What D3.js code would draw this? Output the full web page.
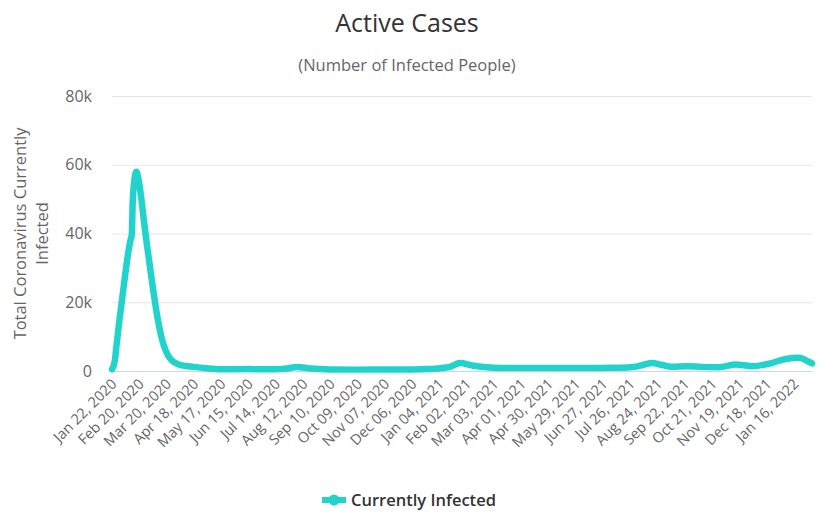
<!DOCTYPE html>
<html>
<head>
<meta charset="utf-8">
<script src="https://cdn.jsdelivr.net/npm/d3@7/dist/d3.min.js"></script>
<style>
  html, body { margin: 0; padding: 0; background: #fff; }
  svg { display: block; font-family: "Open Sans", "DejaVu Sans", sans-serif; }
</style>
</head>
<body>
<svg id="chart" width="820" height="520"></svg>
<script>
// ---- data ----
const dates = [
  "2020-01-22","2020-01-25","2020-01-27","2020-01-30","2020-02-02","2020-02-05","2020-02-08",
  "2020-02-11","2020-02-12","2020-02-13","2020-02-14","2020-02-16","2020-02-17","2020-02-19",
  "2020-02-22","2020-02-25","2020-02-28","2020-03-02","2020-03-05","2020-03-08","2020-03-11",
  "2020-03-14","2020-03-17","2020-03-21","2020-03-26","2020-04-01","2020-04-08","2020-04-18",
  "2020-05-01","2020-05-17","2020-06-15","2020-07-14","2020-07-28","2020-08-05","2020-08-20",
  "2020-09-10","2020-10-09","2020-11-07","2020-12-06","2020-12-20","2021-01-05","2021-01-15",
  "2021-01-26","2021-02-08","2021-02-23","2021-03-12","2021-04-15","2021-05-20","2021-06-25",
  "2021-07-15","2021-07-29","2021-08-10","2021-08-18","2021-08-28","2021-09-08","2021-09-23",
  "2021-10-10","2021-10-28","2021-11-15","2021-12-02","2021-12-20","2022-01-07","2022-01-21",
  "2022-02-01","2022-02-04"
];
const activeCases = [
  500, 3000, 8000, 15000, 21500, 28000, 34000,
  38500, 39500, 49000, 53500, 57500, 58000, 56000,
  50500, 43500, 37000, 31000, 25000, 19500, 14500,
  10500, 7500, 4800, 3000, 2000, 1500, 1200,
  800, 500, 550, 500, 800, 1200, 700,
  450, 400, 450, 450, 550, 800, 1200,
  2300, 1600, 1100, 900, 850, 850, 900,
  950, 1150, 1900, 2300, 1800, 1250, 1400,
  1200, 1100, 1900, 1400, 2100, 3500, 3850,
  2600, 2200
];
const xTickLabels = [
  "Jan 22, 2020","Feb 20, 2020","Mar 20, 2020","Apr 18, 2020","May 17, 2020","Jun 15, 2020",
  "Jul 14, 2020","Aug 12, 2020","Sep 10, 2020","Oct 09, 2020","Nov 07, 2020","Dec 06, 2020",
  "Jan 04, 2021","Feb 02, 2021","Mar 03, 2021","Apr 01, 2021","Apr 30, 2021","May 29, 2021",
  "Jun 27, 2021","Jul 26, 2021","Aug 24, 2021","Sep 22, 2021","Oct 21, 2021","Nov 19, 2021",
  "Dec 18, 2021","Jan 16, 2022"
];
const yTicks = [0, 20000, 40000, 60000, 80000];
const yTickLabels = ["0", "20k", "40k", "60k", "80k"];
const seriesName = "Currently Infected";
const lineColor = "#22d3cc";

// ---- layout ----
const svg = d3.select("#chart");
const plotLeft = 112, plotRight = 812, plotTop = 96, plotBottom = 371;
const parse = d3.timeParse("%Y-%m-%d");
const parseTick = d3.timeParse("%b %d, %Y");
const data = dates.map((d, i) => ({ date: parse(d), value: activeCases[i] }));

const x = d3.scaleTime()
  .domain([parse("2020-01-22"), parse("2022-02-04")])
  .range([plotLeft, plotRight]);
const y = d3.scaleLinear().domain([0, 80000]).range([plotBottom, plotTop]);

// Title / subtitle
svg.append("text").attr("x", 407).attr("y", 32).attr("text-anchor", "middle")
  .attr("font-size", 25).attr("fill", "#333").text("Active Cases");
svg.append("text").attr("x", 407).attr("y", 71).attr("text-anchor", "middle")
  .attr("font-size", 16.5).attr("fill", "#666").text("(Number of Infected People)");

// Gridlines + y labels
const yAxis = d3.axisLeft(y).tickValues(yTicks)
  .tickSize(-(plotRight - plotLeft)).tickPadding(20)
  .tickFormat((d, i) => yTickLabels[i]);
const gy = svg.append("g").attr("transform", `translate(${plotLeft},0)`).call(yAxis);
gy.select(".domain").remove();
gy.selectAll(".tick line").attr("stroke", "#e6e6e6").attr("stroke-width", 1);
gy.selectAll(".tick text").attr("font-size", 16).attr("fill", "#666")
  .attr("font-family", "'Open Sans', sans-serif");

// Y axis title
const yt = svg.append("text").attr("transform", `translate(31,${(plotTop + plotBottom) / 2}) rotate(-90)`)
  .attr("text-anchor", "middle").attr("font-size", 16.5).attr("fill", "#666");
yt.append("tspan").attr("x", 0).attr("dy", "-0.3em").text("Total Coronavirus Currently");
yt.append("tspan").attr("x", 0).attr("dy", "1.3em").text("Infected");

// X axis
const tickDates = xTickLabels.map(parseTick);
const xAxis = d3.axisBottom(x).tickValues(tickDates).tickSize(0)
  .tickFormat((d, i) => xTickLabels[i]);
const gx = svg.append("g").attr("transform", `translate(0,${plotBottom})`).call(xAxis);
gx.select(".domain").attr("stroke", "#ccd6eb");
gx.selectAll(".tick text")
  .attr("font-size", 14.5).attr("fill", "#666")
  .attr("font-family", "'Open Sans', sans-serif")
  .attr("text-anchor", "end")
  .attr("dy", 0).attr("y", 0)
  .attr("transform", "translate(5,14) rotate(-45)");

// Line
const line = d3.line().x(d => x(d.date)).y(d => y(d.value)).curve(d3.curveMonotoneX);
svg.append("path").datum(data).attr("d", line)
  .attr("fill", "none").attr("stroke", lineColor).attr("stroke-width", 6.5)
  .attr("stroke-linejoin", "round").attr("stroke-linecap", "round");

// Legend
const lg = svg.append("g").attr("transform", "translate(322,500)");
lg.append("line").attr("x1", 0).attr("x2", 24).attr("y1", 0).attr("y2", 0)
  .attr("stroke", lineColor).attr("stroke-width", 6);
lg.append("circle").attr("cx", 12).attr("cy", 0).attr("r", 5.5).attr("fill", lineColor);
lg.append("text").attr("x", 29).attr("y", 6).attr("font-size", 16.5).attr("font-weight", 600)
  .attr("fill", "#333").text(seriesName);
</script>
</body>
</html>
